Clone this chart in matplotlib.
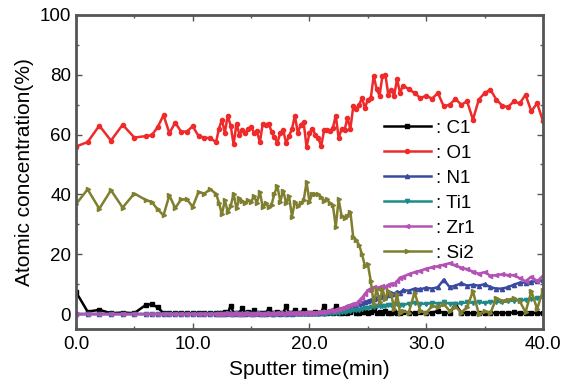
import matplotlib
matplotlib.use('Agg')
import matplotlib.pyplot as plt
from matplotlib.ticker import MultipleLocator, FormatStrFormatter

plt.rcParams['font.family'] = ['Liberation Sans', 'DejaVu Sans']

# sputter time (min)
time = [0, 1, 2, 3, 4, 5, 6, 6.5, 7, 7.5, 8, 8.5, 9, 9.5, 10, 10.5, 11, 11.5, 12,
        12.25, 12.5, 12.75, 13, 13.25, 13.5, 13.75, 14, 14.25, 14.5, 14.75, 15, 15.25, 15.5, 15.75, 16,
        16.25, 16.5, 16.75, 17, 17.25, 17.5, 17.75, 18, 18.25, 18.5, 18.75, 19, 19.25, 19.5, 19.75, 20,
        20.25, 20.5, 20.75, 21, 21.25, 21.5, 21.75, 22, 22.25, 22.5, 22.75, 23, 23.25, 23.5, 23.75, 24,
        24.25, 24.5, 24.75, 25, 25.25, 25.5, 25.75, 26, 26.25, 26.5, 26.75, 27, 27.25, 27.5, 27.75, 28,
        28.5, 29, 29.5, 30, 30.5, 31, 31.5, 32, 32.5, 33, 33.5, 34, 34.5, 35, 35.5, 36, 36.5, 37,
        37.5, 38, 38.5, 39, 39.5, 40]

c1 = [7.4, 0.8, 1.4, 0.3, 0.5, 0.3, 3.1, 3.3, 2.2, 0.3, 0.2, 0.3, 0.5, 0.2, 0.3, 0.5, 0.2, 0.4, 0.3,
      0.4, 0.2, 0.6, 0.3, 2.8, 0.4, 0.3, 0.5, 1.9, 0.3, 0.6, 0.4, 1.2, 0.3, 0.5, 0.4,
      0.3, 1.7, 0.4, 0.3, 0.6, 0.3, 0.4, 2.6, 0.3, 0.5, 1.2, 0.4, 0.3, 1.4, 0.5, 0.3,
      0.4, 0.6, 0.3, 0.5, 2.8, 0.4, 0.6, 0.3, 2.8, 0.5, 0.3, 1.2, 0.4, 0.6, 1.5, 0.5,
      0.3, 0.6, 0.8, 0.4, 0.7, 1.2, 0.3, 0.6, 0.5, 1.0, 0.4, 0.3, 0.8, 0.5, 0.3, 0.6,
      0.4, 0.3, 0.6, 0.2, 0.5, 1.0, 0.4, 0.3, 3.3, 0.5, 0.3, 0.2, 0.4, 0.3, 0.2, 0.5,
      0.4, 0.3, 0.6, 0.3, 0.2, 0.4, 0.3, 0.4]

o1 = [56, 57.5, 63, 58, 63.3, 59, 59.5, 59.8, 62.5, 66.5, 60.5, 64, 61, 61, 62.8, 59.5, 59, 58.8, 57.5,
      62, 65, 60.6, 66.3, 63, 56.7, 63.7, 60, 61.4, 60.4, 62, 62.6, 60.6, 61.1, 57.4, 63.7,
      63.3, 63.7, 61, 59.2, 57.2, 60.6, 61.4, 57.2, 59.5, 61.9, 66.3, 60.6, 63.3, 64.1, 55.8, 60.6,
      61.9, 60, 58.9, 56.1, 61.4, 61.6, 61.1, 62.2, 66.3, 58.9, 61.9, 61.4, 65.6, 61.9, 69.4, 68.5,
      70, 72.2, 68.9, 71.7, 72.2, 79.7, 75.2, 73, 79.7, 80, 73.3, 75, 73, 78.6, 73.9, 76.4,
      75.2, 73.9, 72.2, 73, 72, 73.9, 69.4, 70, 71.9, 70, 71.1, 65, 71.7, 73.9, 75, 71.7,
      69.7, 69.2, 71.1, 70.4, 73.3, 67.8, 70.5, 64.4]

n1 = [0, 0, 0, 0, 0, 0, 0, 0, 0, 0, 0, 0, 0, 0, 0, 0, 0, 0, 0,
      0, 0.1, 0, 0.2, 0.1, 0, 0.2, 0.1, 0, 0.1, 0.2, 0, 0.1, 0.2, 0.1, 0,
      0.1, 0.2, 0, 0.1, 0.3, 0.1, 0.2, 0, 0.3, 0.1, 0.2, 0.4, 0.2, 0.3, 0.2, 0.4,
      0.3, 0.5, 0.4, 0.6, 0.5, 0.8, 0.7, 1.0, 0.9, 1.3, 1.2, 1.6, 1.8, 2.2, 2.4, 2.8,
      3.2, 3.6, 4.0, 4.4, 4.8, 5.0, 5.5, 5.8, 6.2, 5.7, 6.5, 7.2, 6.8, 7.5, 7.2, 8.0,
      7.8, 8.5, 8.3, 8.8, 8.5, 9, 11.5, 9, 9.5, 10.3, 9.5, 9.8, 9.5, 10, 9, 8.5,
      8.5, 9, 9.8, 10.5, 10.5, 10.8, 11, 11.3]

ti1 = [0, 0, 0, 0, 0, 0, 0, 0, 0, 0, 0, 0, 0, 0, 0, 0, 0, 0, 0,
       0, 0.1, 0, 0, 0.1, 0, 0, 0.1, 0, 0, 0.1, 0, 0.1, 0, 0, 0.1,
       0, 0.1, 0, 0.1, 0, 0.1, 0, 0.1, 0.1, 0, 0.1, 0, 0.1, 0.1, 0, 0.1,
       0.1, 0, 0.1, 0.2, 0.1, 0.2, 0.2, 0.3, 0.4, 0.5, 0.6, 0.8, 1.0, 1.1, 1.2, 1.3,
       1.5, 1.8, 1.9, 2.0, 2.3, 2.5, 2.6, 2.8, 2.6, 2.6, 2.9, 3.0, 3.2, 3.3, 3.1, 3.0,
       3.5, 3.7, 3.5, 3.3, 3.8, 3.5, 3.9, 3.5, 3.4, 3.6, 3.9, 3.8, 4.0, 3.7, 4.0, 4.1,
       4.0, 4.3, 4.5, 4.6, 4.7, 5.0, 5.2, 5.6]

zr1 = [0, 0, 0, 0, 0, 0, 0, 0, 0, 0, 0, 0, 0, 0, 0, 0, 0, 0, 0,
       0.1, 0, 0.2, 0.1, 0, 0.2, 0.1, 0.1, 0, 0.2, 0.1, 0, 0.1, 0.2, 0.1, 0.1,
       0.2, 0.1, 0.2, 0.1, 0.3, 0.2, 0.1, 0.3, 0.2, 0.3, 0.2, 0.4, 0.3, 0.3, 0.5, 0.4,
       0.5, 0.4, 0.6, 0.8, 0.7, 1.0, 1.2, 1.1, 1.5, 1.8, 2.0, 2.2, 2.8, 3.0, 3.5, 3.5,
       4.5, 5.5, 6.8, 8.0, 8.5, 9.0, 8.6, 9.0, 9.3, 9.0, 9.8, 10.2, 10.0, 11.0, 12.2, 12.5,
       13.3, 14, 14.5, 15.2, 15.6, 16, 16.5, 17, 16.3, 15.5, 15, 14.2, 13.5, 14, 12.8, 13,
       13.3, 13, 13, 12, 11, 12.5, 11, 12.8]

si2 = [36.7, 41.7, 35.2, 41.4, 35.6, 40.3, 38.1, 37.4, 35, 33, 39.7, 35.4, 38.3, 38.3, 35.9, 40.8, 40.3, 41.7, 40.2,
       37.2, 33.3, 38, 34.2, 36, 40.3, 35.3, 38.7, 37.7, 37.2, 38, 37.5, 39.4, 37.2, 40.8, 35.7,
       37.2, 35.7, 36.5, 40.3, 42.8, 37.6, 41.3, 37.1, 39.4, 32.6, 37.6, 36.1, 37.1, 38, 44.1, 37.6,
       40.3, 40, 40, 39, 37.8, 38.5, 37, 36.5, 29.2, 38.3, 32.8, 32.2, 32.8, 34.2, 25.6, 24.8,
       23, 20, 16, 16.6, 11, 3.3, 8.5, 4, 8.3, 5, 7.8, 6.7, 1.7, 6.7, 0.5, 1,
       0.5, 7.2, 1, 0.3, 2.8, 2.2, 3.3, 1.1, 2.5, 0.5, 2.3, 7.6, 0, 1, 0.3, 5.4,
       4.4, 4.8, 5.2, 4.4, 0.6, 7.6, 1.7, 8]

series = [(c1, ': C1', 'black', 's'),
          (o1, ': O1', '#ee2a2a', 'o'),
          (n1, ': N1', '#3a4aa0', '^'),
          (ti1, ': Ti1', '#1f8a8a', 'v'),
          (zr1, ': Zr1', '#b552b5', '<'),
          (si2, ': Si2', '#7f7f2f', '>')]

fig = plt.figure(figsize=(5.71, 3.83), dpi=100)
ax = fig.add_axes([0.133, 0.141, 0.818, 0.82])

for vals, lab, col, mk in series:
    ax.plot(time, vals, color=col, marker=mk, markersize=3, linewidth=1.8, label=lab)

ax.set_xlim(0, 40)
ax.set_ylim(-5, 100)
ax.xaxis.set_major_locator(MultipleLocator(10))
ax.xaxis.set_minor_locator(MultipleLocator(5))
ax.yaxis.set_major_locator(MultipleLocator(20))
ax.yaxis.set_minor_locator(MultipleLocator(10))
ax.xaxis.set_major_formatter(FormatStrFormatter('%.1f'))
ax.set_yticks([0, 20, 40, 60, 80, 100])

ax.tick_params(which='both', direction='in', top=True, right=True, color='#555555',
               labelsize=13.5)
ax.tick_params(which='major', length=4, width=1)
ax.tick_params(which='minor', length=2.5, width=1)
ax.tick_params(axis='x', pad=5)
for s in ax.spines.values():
    s.set_linewidth(2)
    s.set_color('#555555')

ax.set_xlabel('Sputter time(min)', fontsize=15, labelpad=5)
ax.set_ylabel('Atomic concentration(%)', fontsize=15, labelpad=4)

ax.legend(loc='upper left', bbox_to_anchor=(0.643, 0.69), frameon=False, fontsize=13.5,
          handlelength=2.5, handletextpad=0.3, labelspacing=0.42, borderaxespad=0)

fig.savefig('out.png', dpi=100)
